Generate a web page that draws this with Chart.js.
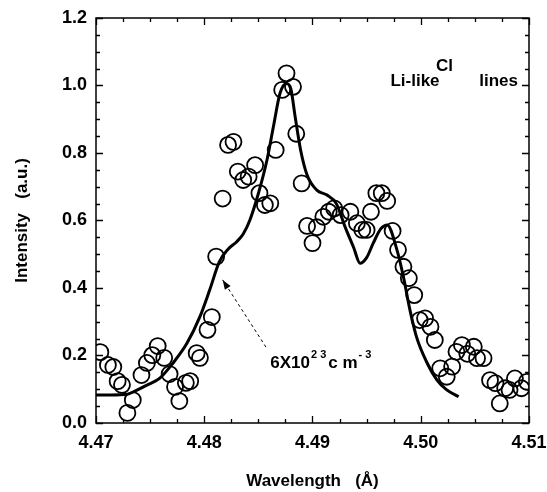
<!DOCTYPE html>
<html>
<head>
<meta charset="utf-8">
<script src="https://cdn.jsdelivr.net/npm/chart.js@4.4.1/dist/chart.umd.min.js"></script>
<style>
  html, body { margin: 0; padding: 0; background: #fff; }
  #wrap { width: 547px; height: 492px; }
</style>
</head>
<body>
<div id="wrap"><canvas id="spectrum" width="547" height="492"></canvas></div>
<script>
// measured spectrum (open circles)
const measWl = [4.4704, 4.4711, 4.4716, 4.4720, 4.4724, 4.4729, 4.4734, 4.4742, 4.4747, 4.4752,
  4.4757, 4.4763, 4.4768, 4.4773, 4.4777, 4.4783, 4.4787, 4.4793, 4.4796, 4.4803,
  4.4807, 4.4811, 4.4817, 4.4822, 4.4827, 4.4831, 4.4836, 4.4841, 4.4847, 4.4851,
  4.4856, 4.4861, 4.4866, 4.4872, 4.4876, 4.4882, 4.4885, 4.4890, 4.4895, 4.4900,
  4.4904, 4.4910, 4.4915, 4.4920, 4.4926, 4.4935, 4.4941, 4.4946, 4.4950, 4.4954,
  4.4959, 4.4964, 4.4969, 4.4974, 4.4979, 4.4984, 4.4989, 4.4994, 4.4999, 4.5004,
  4.5009, 4.5013, 4.5018, 4.5024, 4.5029, 4.5033, 4.5038, 4.5043, 4.5049, 4.5052,
  4.5058, 4.5064, 4.5069, 4.5073, 4.5078, 4.5082, 4.5087, 4.5093, 4.5098];
const measInt = [0.210, 0.172, 0.166, 0.124, 0.113, 0.030, 0.068, 0.142, 0.178, 0.201,
  0.228, 0.193, 0.145, 0.107, 0.065, 0.119, 0.124, 0.207, 0.193, 0.276,
  0.314, 0.493, 0.665, 0.824, 0.833, 0.745, 0.720, 0.730, 0.764, 0.681,
  0.646, 0.651, 0.809, 0.987, 1.036, 0.996, 0.857, 0.710, 0.584, 0.533,
  0.580, 0.611, 0.626, 0.636, 0.616, 0.626, 0.592, 0.572, 0.572, 0.626,
  0.681, 0.681, 0.658, 0.569, 0.513, 0.463, 0.429, 0.379, 0.305, 0.310,
  0.285, 0.246, 0.162, 0.137, 0.167, 0.211, 0.231, 0.205, 0.226, 0.192,
  0.192, 0.127, 0.118, 0.058, 0.103, 0.098, 0.132, 0.103, 0.122];

// calculated profile, 6x10^23 cm^-3
const fitWl = [4.4700, 4.4713, 4.4729, 4.4735, 4.4747, 4.4759, 4.4771, 4.4784, 4.4796, 4.4805,
  4.4814, 4.4822, 4.4830, 4.4836, 4.4842, 4.4850, 4.4858, 4.4864, 4.4870, 4.4876,
  4.4880, 4.4884, 4.4889, 4.4895, 4.4904, 4.4913, 4.4922, 4.4930, 4.4938, 4.4944,
  4.4950, 4.4956, 4.4963, 4.4969, 4.4978, 4.4984, 4.4990, 4.4996, 4.5006, 4.5015,
  4.5024, 4.5035];
const fitInt = [0.083, 0.083, 0.085, 0.093, 0.112, 0.133, 0.177, 0.236, 0.315, 0.394,
  0.478, 0.515, 0.537, 0.560, 0.600, 0.680, 0.780, 0.880, 0.977, 1.006,
  0.990, 0.907, 0.809, 0.735, 0.690, 0.676, 0.650, 0.582, 0.520, 0.473,
  0.490, 0.532, 0.575, 0.587, 0.513, 0.433, 0.335, 0.256, 0.177, 0.127,
  0.098, 0.078];

const xTickVals = [4.47, 4.48, 4.49, 4.50, 4.51];
const yTickVals = [0.0, 0.2, 0.4, 0.6, 0.8, 1.0, 1.2];
const xMinorStep = 0.0025;
const yMinorStep = 0.05;

const FAM = 'Liberation Sans, Arial, sans-serif';
const labelFont = { family: FAM, size: 18, weight: 'bold' };
const titleFont = { family: FAM, size: 17, weight: 'bold' };

// frame with inward ticks on all four sides
const frameTicks = {
  id: 'frameTicks',
  afterDatasetsDraw(chart) {
    const { ctx, chartArea: a, scales: { x, y } } = chart;
    ctx.save();
    ctx.strokeStyle = '#000';
    ctx.lineWidth = 1.5;
    ctx.strokeRect(a.left, a.top, a.right - a.left, a.bottom - a.top);
    ctx.lineWidth = 1.3;
    ctx.beginPath();
    const nx = Math.round((x.max - x.min) / xMinorStep);
    for (let i = 0; i <= nx; i++) {
      const v = x.min + i * xMinorStep;
      const px = Math.round(x.getPixelForValue(v)) + 0.5;
      const len = i % 4 === 0 ? 7 : 4;
      ctx.moveTo(px, a.bottom); ctx.lineTo(px, a.bottom - len);
      ctx.moveTo(px, a.top); ctx.lineTo(px, a.top + len);
    }
    const ny = Math.round((y.max - y.min) / yMinorStep);
    for (let i = 0; i <= ny; i++) {
      const v = y.min + i * yMinorStep;
      const py = Math.round(y.getPixelForValue(v)) + 0.5;
      const len = i % 4 === 0 ? 7 : 4;
      ctx.moveTo(a.left, py); ctx.lineTo(a.left + len, py);
      ctx.moveTo(a.right, py); ctx.lineTo(a.right - len, py);
    }
    ctx.stroke();
    ctx.restore();
  }
};

// text labels and the arrow
const notes = {
  id: 'notes',
  afterDraw(chart) {
    const { ctx, scales: { x, y } } = chart;
    ctx.save();
    ctx.fillStyle = '#000';
    ctx.textBaseline = 'middle';
    ctx.font = 'bold 17px ' + FAM;
    ctx.textAlign = 'center';
    ctx.fillText('Cl', x.getPixelForValue(4.5022), y.getPixelForValue(1.058));
    ctx.textAlign = 'left';
    ctx.fillText('Li-like', x.getPixelForValue(4.4972), y.getPixelForValue(1.012));
    ctx.fillText('lines', x.getPixelForValue(4.5054), y.getPixelForValue(1.012));

    // 6X10^23 cm^-3
    ctx.textBaseline = 'alphabetic';
    let px = x.getPixelForValue(4.4861);
    const base = y.getPixelForValue(0.163);
    ctx.font = 'bold 17px ' + FAM;
    ctx.fillText('6X10', px, base);
    px += ctx.measureText('6X10').width + 1;
    ctx.font = 'bold 11px ' + FAM;
    ctx.fillText('2 3', px, base - 10);
    px += ctx.measureText('2 3').width + 2;
    ctx.font = 'bold 17px ' + FAM;
    ctx.fillText('c m', px, base);
    px += ctx.measureText('c m').width + 1;
    ctx.font = 'bold 11px ' + FAM;
    ctx.fillText('- 3', px, base - 10);

    // dashed arrow
    const tx = x.getPixelForValue(4.4817), ty = y.getPixelForValue(0.424);
    const sx = x.getPixelForValue(4.4857), sy = y.getPixelForValue(0.225);
    ctx.strokeStyle = '#000';
    ctx.lineWidth = 1;
    ctx.setLineDash([3, 3]);
    ctx.beginPath(); ctx.moveTo(sx, sy); ctx.lineTo(tx, ty); ctx.stroke();
    ctx.setLineDash([]);
    const ang = Math.atan2(ty - sy, tx - sx);
    ctx.beginPath();
    ctx.moveTo(tx, ty);
    ctx.lineTo(tx - 10 * Math.cos(ang - 0.35), ty - 10 * Math.sin(ang - 0.35));
    ctx.lineTo(tx - 10 * Math.cos(ang + 0.35), ty - 10 * Math.sin(ang + 0.35));
    ctx.closePath();
    ctx.fill();
    ctx.restore();
  }
};

new Chart(document.getElementById('spectrum'), {
  type: 'scatter',
  data: {
    datasets: [
      {
        label: 'calc',
        data: fitWl.map((w, i) => ({ x: w, y: fitInt[i] })),
        showLine: true,
        borderColor: '#000',
        borderWidth: 3,
        pointRadius: 0,
        cubicInterpolationMode: 'monotone',
        order: 2
      },
      {
        label: 'exp',
        data: measWl.map((w, i) => ({ x: w, y: measInt[i] })),
        showLine: false,
        pointStyle: 'circle',
        pointRadius: 8,
        pointBorderWidth: 1.8,
        pointBorderColor: '#000',
        pointBackgroundColor: 'rgba(0,0,0,0)',
        order: 1
      }
    ]
  },
  options: {
    responsive: false,
    devicePixelRatio: 1,
    animation: false,
    layout: { padding: { top: 18, right: 18, left: 0, bottom: 0 } },
    plugins: { legend: { display: false }, tooltip: { enabled: false } },
    scales: {
      x: {
        type: 'linear',
        min: 4.47, max: 4.51,
        afterBuildTicks: s => { s.ticks = xTickVals.map(v => ({ value: v })); },
        afterFit: s => { s.height = 69; s.paddingLeft = 0; s.paddingRight = 0; },
        grid: { display: false, drawTicks: false },
        border: { display: false },
        ticks: { color: '#000', font: labelFont, padding: 9, callback: v => v.toFixed(2), maxRotation: 0 },
        title: { display: true, text: 'Wavelength   (Å)', color: '#000', font: titleFont, padding: { top: 4, bottom: 0 } }
      },
      y: {
        min: 0, max: 1.2,
        afterBuildTicks: s => { s.ticks = yTickVals.map(v => ({ value: v })); },
        afterFit: s => { s.width = 96; s.paddingTop = 0; s.paddingBottom = 0; },
        grid: { display: false, drawTicks: false },
        border: { display: false },
        ticks: { color: '#000', font: labelFont, padding: 9, callback: v => v.toFixed(1) },
        title: { display: true, text: 'Intensity   (a.u.)', color: '#000', font: titleFont, padding: { top: 12, bottom: 0 } }
      }
    }
  },
  plugins: [frameTicks, notes]
});
</script>
</body>
</html>
